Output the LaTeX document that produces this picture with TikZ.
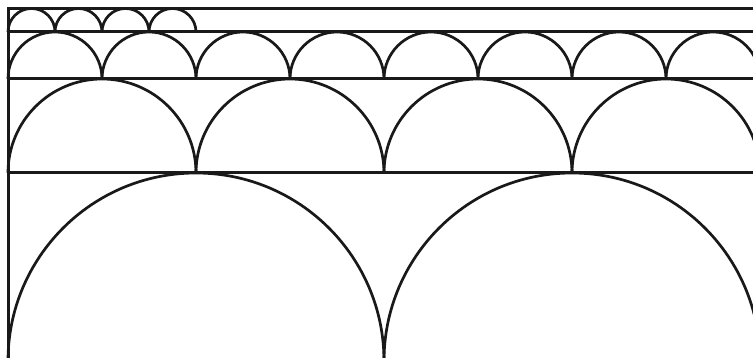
\documentclass[tikz,border=0pt]{standalone}
\begin{document}
\begin{tikzpicture}[x=1pt,y=1pt,
  edge/.style={line width=3pt,draw=black!90},
  arcline/.style={line width=2.7pt,draw=black!90}]
\useasboundingbox (0,0) rectangle (753,358);
\clip (0,0) rectangle (753,358);
% frame lines
\draw[edge,line join=miter] (760,349.5) -- (8,349.5) -- (8,-5);
\draw[edge] (8,326) -- (760,326);
\draw[edge] (8,279) -- (760,279);
\draw[edge] (8,185) -- (760,185);
% row 1 (radius 23.5)
\foreach \k in {0,...,3}
  \draw[arcline] ({8+47*\k},326) arc[start angle=180,end angle=0,radius=23.5];
% row 2 (radius 47)
\foreach \k in {0,...,7}
  \draw[arcline] ({8+94*\k},279) arc[start angle=180,end angle=0,radius=47];
% row 3 (radius 94)
\foreach \k in {0,...,3}
  \draw[arcline] ({8+188*\k},185) arc[start angle=180,end angle=0,radius=94];
% row 4 (radius 188)
\foreach \k in {0,1}
  \draw[arcline] ({8+376*\k},-3) arc[start angle=180,end angle=0,radius=188];
\end{tikzpicture}
\end{document}
